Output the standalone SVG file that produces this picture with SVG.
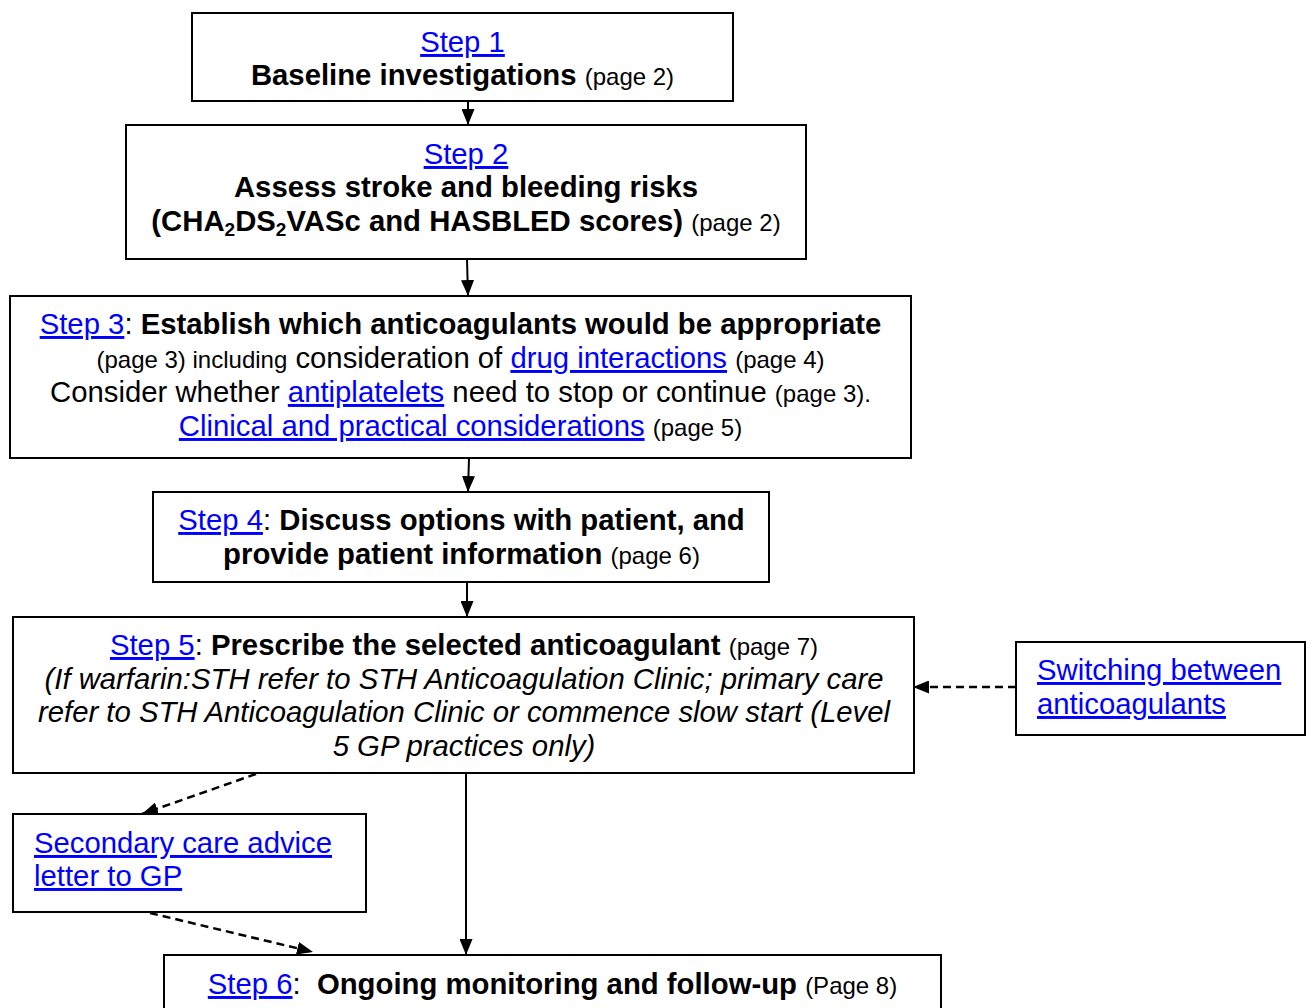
<svg xmlns="http://www.w3.org/2000/svg" width="1307" height="1008" viewBox="0 0 1307 1008">
  <defs>
    <style>
      .box { fill: #fff; stroke: #000; stroke-width: 2; }
      text { font-family: "Liberation Sans", Arial, sans-serif; fill: #000; font-size: 29.3px; }
      .c { text-anchor: middle; }
      .b { font-weight: bold; }
      .s { font-size: 24px; font-weight: normal; }
      .i { font-style: italic; }
      .lk { fill: #0000ff; text-decoration: underline; font-weight: normal; }
      .sub { font-size: 19px; }
      .conn { stroke: #000; stroke-width: 2; fill: none; }
      .dash { stroke-width: 2.5; stroke-dasharray: 8 5; }
    </style>
    <marker id="arrow" markerUnits="userSpaceOnUse" markerWidth="16" markerHeight="13" refX="16" refY="6.5" orient="auto">
      <path d="M0,0 L16,6.5 L0,13 z" fill="#000"/>
    </marker>
  </defs>

  <rect width="1307" height="1008" fill="#fff"/>

  <!-- connectors -->
  <g id="connectors">
    <line class="conn" x1="468" y1="101" x2="468" y2="125" marker-end="url(#arrow)"/>
    <line class="conn" x1="467" y1="259" x2="468" y2="296" marker-end="url(#arrow)"/>
    <line class="conn" x1="469" y1="458" x2="468" y2="492" marker-end="url(#arrow)"/>
    <line class="conn" x1="467" y1="582" x2="467" y2="617" marker-end="url(#arrow)"/>
    <line class="conn" x1="466" y1="773" x2="466" y2="955" marker-end="url(#arrow)"/>
    <line class="conn dash" x1="1016" y1="687" x2="913" y2="687" marker-end="url(#arrow)"/>
    <line class="conn dash" x1="256" y1="774" x2="142" y2="814" marker-end="url(#arrow)"/>
    <line class="conn dash" x1="150" y1="913" x2="313" y2="952" marker-end="url(#arrow)"/>
  </g>

  <!-- Step 1 -->
  <g id="step1">
    <rect class="box" x="192" y="13" width="541" height="88"/>
    <text class="c" x="462.5" y="52"><tspan class="lk">Step 1</tspan></text>
    <text class="c b" x="462.5" y="85">Baseline investigations <tspan class="s">(page 2)</tspan></text>
  </g>

  <!-- Step 2 -->
  <g id="step2">
    <rect class="box" x="126" y="125" width="680" height="134"/>
    <text class="c" x="466" y="164"><tspan class="lk">Step 2</tspan></text>
    <text class="c b" x="466" y="197">Assess stroke and bleeding risks</text>
    <text class="c b" x="466" y="231">(CHA<tspan class="sub" dy="5">2</tspan><tspan dy="-5">DS</tspan><tspan class="sub" dy="5">2</tspan><tspan dy="-5">VASc and HASBLED scores)</tspan> <tspan class="s">(page 2)</tspan></text>
  </g>

  <!-- Step 3 -->
  <g id="step3">
    <rect class="box" x="10" y="296" width="901" height="162"/>
    <text class="c" x="460.5" y="334"><tspan class="lk">Step 3</tspan>: <tspan class="b">Establish which anticoagulants would be appropriate</tspan></text>
    <text class="c" x="460.5" y="368"><tspan class="s">(page 3) including</tspan> consideration of <tspan class="lk">drug interactions</tspan> <tspan class="s">(page 4)</tspan></text>
    <text class="c" x="460.5" y="402">Consider whether <tspan class="lk">antiplatelets</tspan> need to stop or continue <tspan class="s">(page 3).</tspan></text>
    <text class="c" x="460.5" y="436"><tspan class="lk">Clinical and practical considerations</tspan> <tspan class="s">(page 5)</tspan></text>
  </g>

  <!-- Step 4 -->
  <g id="step4">
    <rect class="box" x="153" y="492" width="616" height="90"/>
    <text class="c" x="461.5" y="530"><tspan class="lk">Step 4</tspan>: <tspan class="b">Discuss options with patient, and</tspan></text>
    <text class="c b" x="461.5" y="564">provide patient information <tspan class="s">(page 6)</tspan></text>
  </g>

  <!-- Step 5 -->
  <g id="step5">
    <rect class="box" x="13" y="617" width="901" height="156"/>
    <text class="c" x="464" y="655"><tspan class="lk">Step 5</tspan>: <tspan class="b">Prescribe the selected anticoagulant</tspan> <tspan class="s">(page 7)</tspan></text>
    <text class="c i" x="464" y="689">(If warfarin:STH refer to STH Anticoagulation Clinic; primary care</text>
    <text class="c i" x="464" y="722">refer to STH Anticoagulation Clinic or commence slow start (Level</text>
    <text class="c i" x="464" y="756">5 GP practices only)</text>
  </g>

  <!-- Switching between anticoagulants -->
  <g id="switching">
    <rect class="box" x="1016" y="642" width="289" height="93"/>
    <text x="1037" y="680"><tspan class="lk">Switching between</tspan></text>
    <text x="1037" y="714"><tspan class="lk">anticoagulants</tspan></text>
  </g>

  <!-- Secondary care advice letter -->
  <g id="advice-letter">
    <rect class="box" x="13" y="814" width="353" height="98"/>
    <text x="34" y="853"><tspan class="lk">Secondary care advice</tspan></text>
    <text x="34" y="886"><tspan class="lk">letter to GP</tspan></text>
  </g>

  <!-- Step 6 -->
  <g id="step6">
    <rect class="box" x="164" y="955" width="777" height="70"/>
    <text class="c" x="552.5" y="994" xml:space="preserve"><tspan class="lk">Step 6</tspan>:  <tspan class="b">Ongoing monitoring and follow-up</tspan> <tspan class="s">(Page 8)</tspan></text>
  </g>
</svg>
